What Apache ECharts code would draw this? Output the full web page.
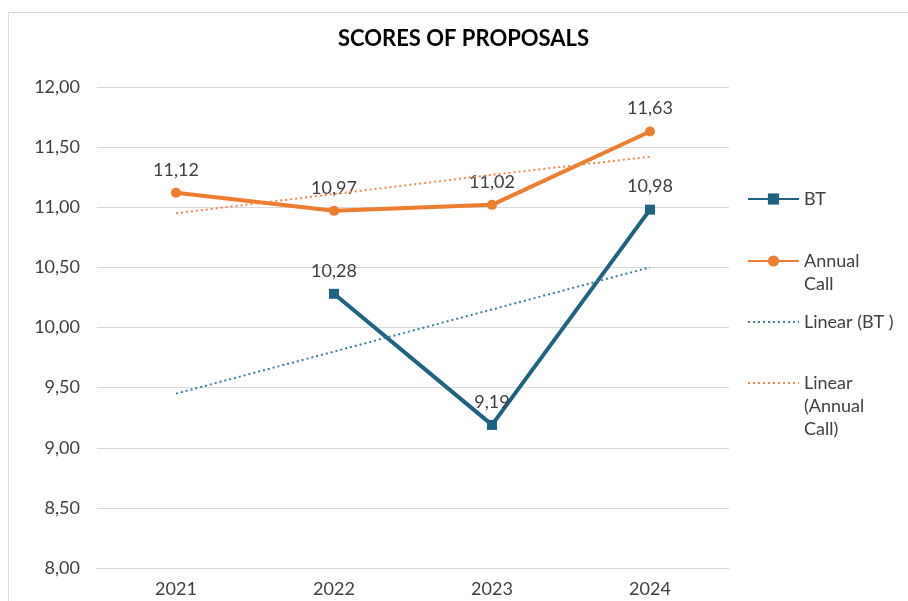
<!DOCTYPE html>
<html>
<head>
<meta charset="utf-8">
<title>Scores of proposals</title>
<script src="https://cdn.jsdelivr.net/npm/echarts@6/dist/echarts.min.js"></script>
<style>
  html, body { margin: 0; padding: 0; background: #fff; }
  #chart { width: 908px; height: 601px; }
</style>
</head>
<body>
<div id="chart"></div>
<script>
// 数据
const years = ['2021', '2022', '2023', '2024']
const btScores = [null, 10.28, 9.19, 10.98]
const annualScores = [11.12, 10.97, 11.02, 11.63]
// trend lines
const btTrend = [9.45, 9.80, 10.15, 10.50]
const annualTrend = [10.95, 11.11, 11.27, 11.42]

const BLUE = '#1f6282'
const ORANGE = '#ed7d31'
const FONT = 'Lato'

const fmt = v => v.toFixed(2).replace('.', ',')

// blank lines on top keep the first line level with the icon
const legendNames = {
  'BT': 'BT',
  'Annual Call': ' \nAnnual\nCall',
  'Linear (BT )': 'Linear (BT )',
  'Linear (Annual Call)': ' \n \nLinear\n(Annual\nCall)'
}
const LH = 23

// one legend per item so each sits where it should
const makeLegend = (name, iconY, lines, hideSymbol) => ({
  orient: 'vertical',
  left: 747,
  top: iconY - 11.5 - (lines - 1) * LH,
  padding: 0,
  itemWidth: 51,
  itemHeight: 14,
  formatter: n => legendNames[n],
  itemStyle: hideSymbol ? { opacity: 0 } : {},
  textStyle: {
    fontFamily: FONT,
    fontSize: 18,
    color: '#404040',
    lineHeight: LH
  },
  data: [name]
})

const chart = echarts.init(document.getElementById('chart'))
const option = {
  animation: false,
  title: {
    text: 'SCORES OF PROPOSALS',
    left: 338,
    top: 28,
    padding: 0,
    textStyle: { fontFamily: FONT, fontSize: 22, fontWeight: 'bold', color: '#000' }
  },
  graphic: [{
    type: 'rect',
    shape: { x: 8.5, y: 12.5, width: 920, height: 620 },
    style: { fill: 'none', stroke: '#d9d9d9', lineWidth: 1 },
    silent: true
  }],
  legend: [
    makeLegend('BT', 199, 1, false),
    makeLegend('Annual Call', 261, 2, false),
    makeLegend('Linear (BT )', 322, 1, true),
    makeLegend('Linear (Annual Call)', 383, 3, true)
  ],
  grid: { left: 97, right: 179, top: 87, bottom: 33 },
  xAxis: {
    type: 'category',
    data: years,
    boundaryGap: true,
    axisLine: { lineStyle: { color: '#d9d9d9' } },
    axisTick: { show: false },
    axisLabel: { fontFamily: FONT, fontSize: 18, color: '#404040', margin: 12 }
  },
  yAxis: {
    type: 'value',
    min: 8,
    max: 12,
    interval: 0.5,
    axisLine: { show: false },
    axisTick: { show: false },
    splitLine: { lineStyle: { color: '#d9d9d9', width: 1 } },
    axisLabel: { fontFamily: FONT, fontSize: 18, color: '#404040', margin: 17, formatter: fmt }
  },
  series: [
    {
      name: 'BT',
      type: 'line',
      data: btScores,
      symbol: 'rect',
      symbolSize: 10,
      lineStyle: { color: BLUE, width: 4 },
      itemStyle: { color: BLUE },
      label: {
        show: true, position: 'top', distance: 9,
        fontFamily: FONT, fontSize: 18, color: '#404040',
        formatter: p => fmt(p.value)
      },
      z: 3
    },
    {
      name: 'Annual Call',
      type: 'line',
      data: annualScores,
      symbol: 'circle',
      symbolSize: 10,
      lineStyle: { color: ORANGE, width: 4 },
      itemStyle: { color: ORANGE },
      label: {
        show: true, position: 'top', distance: 9,
        fontFamily: FONT, fontSize: 18, color: '#404040',
        formatter: p => fmt(p.value)
      },
      z: 3
    },
    {
      name: 'Linear (BT )',
      type: 'line',
      data: btTrend,
      symbol: 'none',
      lineStyle: { color: '#3a7fa3', width: 2, type: [2, 3] },
      itemStyle: { color: '#3a7fa3' },
      z: 4
    },
    {
      name: 'Linear (Annual Call)',
      type: 'line',
      data: annualTrend,
      symbol: 'none',
      lineStyle: { color: '#f08a4e', width: 2, type: [2, 3] },
      itemStyle: { color: '#f08a4e' },
      z: 4
    }
  ]
}
chart.setOption(option)
</script>
</body>
</html>
